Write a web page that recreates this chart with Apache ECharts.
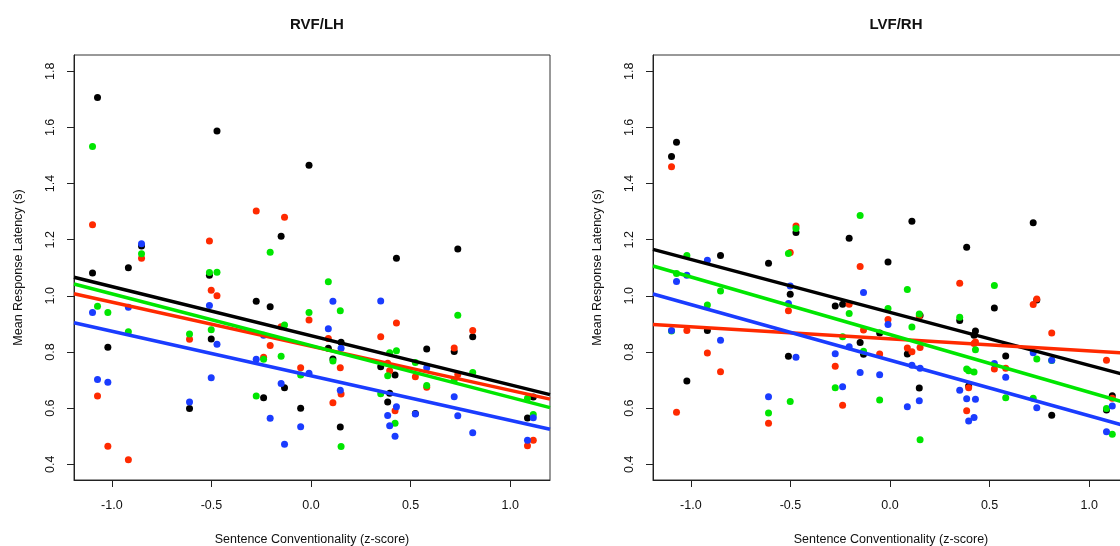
<!DOCTYPE html>
<html lang="en">
  <head>
    <meta charset="UTF-8" />
    <title>latency scatter</title>
    <script src="https://cdn.jsdelivr.net/npm/echarts@6/dist/echarts.min.js"></script>
    <style>
      body { margin: 0; background: #ffffff; }
      #chart { width: 1120px; height: 546px; }
    </style>
  </head>
  <body>
    <div id="chart"></div>
    <script>
      // sentence items (z-score), shared by both panels
      var itemX = [-1.097, -1.072, -1.020, -0.917, -0.851, -0.610, -0.510, -0.501, -0.472, -0.275, -0.238, -0.205, -0.150, -0.133, -0.052, -0.010,
        0.087, 0.110, 0.147, 0.151, 0.350, 0.385, 0.395, 0.422, 0.429, 0.524, 0.581, 0.719, 0.737, 0.812, 1.087, 1.116];

      // RVF/LH
      var leftBlack = [1.081, 1.707, 0.817, 1.100, 1.178, 0.599, 1.073, 0.846, 1.587, 0.981, 0.637, 0.961, 1.212, 0.673, 0.600, 1.465,
        0.813, 0.775, 0.533, 0.835, 0.747, 0.622, 0.653, 0.718, 1.134, 0.581, 0.811, 0.802, 1.167, 0.854, 0.565, 0.640];
      var leftRed = [1.253, 0.643, 0.464, 0.416, 1.134, 0.845, 1.195, 1.020, 1.000, 1.302, 0.781, 0.823, 0.890, 1.280, 0.744, 0.914,
        0.848, 0.619, 0.744, 0.650, 0.854, 0.760, 0.733, 0.591, 0.903, 0.712, 0.674, 0.814, 0.720, 0.877, 0.466, 0.486];
      var leftGreen = [1.532, 0.963, 0.941, 0.872, 1.150, 0.864, 1.083, 0.879, 1.084, 0.643, 0.774, 1.155, 0.785, 0.896, 0.718, 0.941,
        1.050, 0.768, 0.947, 0.463, 0.651, 0.715, 0.797, 0.546, 0.804, 0.763, 0.681, 0.700, 0.931, 0.727, 0.635, 0.577];
      var leftBlue = [0.941, 0.702, 0.692, 0.959, 1.186, 0.622, 0.966, 0.708, 0.828, 0.774, 0.860, 0.564, 0.688, 0.471, 0.534, 0.724,
        0.883, 0.981, 0.664, 0.813, 0.982, 0.574, 0.537, 0.500, 0.605, 0.579, 0.744, 0.641, 0.573, 0.512, 0.486, 0.566];

      // LVF/RH
      var rightBlack = [1.496, 1.547, 0.697, 0.877, 1.144, 1.116, 0.785, 1.006, 1.226, 0.964, 0.970, 1.205, 0.834, 0.792, 0.868, 1.121,
        0.793, 1.266, 0.672, 0.930, 0.912, 1.173, 0.679, 0.860, 0.875, 0.957, 0.786, 1.260, 0.985, 0.575, 0.593, 0.644];
      var rightRed = [1.460, 0.585, 0.877, 0.796, 0.730, 0.546, 0.947, 1.154, 1.249, 0.749, 0.610, 0.970, 1.105, 0.878, 0.793, 0.916,
        0.814, 0.801, 0.928, 0.816, 1.045, 0.591, 0.673, 0.830, 0.836, 0.739, 0.742, 0.969, 0.989, 0.868, 0.771, 0.635];
      var rightGreen = [0.875, 1.080, 1.144, 0.967, 1.017, 0.583, 1.151, 0.624, 1.240, 0.673, 0.854, 0.937, 1.286, 0.803, 0.629, 0.955,
        1.023, 0.889, 0.935, 0.487, 0.924, 0.739, 0.733, 0.729, 0.808, 1.037, 0.637, 0.635, 0.775, 0.770, 0.599, 0.507];
      var rightBlue = [0.877, 1.051, 1.073, 1.127, 0.842, 0.641, 0.973, 1.035, 0.781, 0.794, 0.676, 0.819, 0.727, 1.012, 0.719, 0.898,
        0.605, 0.753, 0.626, 0.742, 0.664, 0.633, 0.554, 0.567, 0.632, 0.759, 0.710, 0.797, 0.601, 0.771, 0.516, 0.608];

      // fitted lines [intercept, slope]: black, red, green, blue
      var leftFit = [[0.858, -0.175], [0.8205, -0.157], [0.8228, -0.1842], [0.7153, -0.1588]];
      var rightFit = [[0.941, -0.1886], [0.847, -0.0429], [0.862, -0.2052], [0.771, -0.198]];

      var panelTitles = ['RVF/LH', 'LVF/RH'];
      var xTicks = [-1.0, -0.5, 0.0, 0.5, 1.0];
      var yTicks = [0.4, 0.6, 0.8, 1.0, 1.2, 1.4, 1.6, 1.8];

      var groupColors = ['#000000', '#ff2a00', '#00e600', '#1a3cff'];
      var fontName = "'Liberation Sans', Arial, sans-serif";
      var xMin = -1.19, xMax = 1.2, yMin = 0.344, yMax = 1.858;

      var chart = echarts.init(document.getElementById('chart'));

      var panels = [
        { groups: [leftBlack, leftRed, leftGreen, leftBlue], fit: leftFit },
        { groups: [rightBlack, rightRed, rightGreen, rightBlue], fit: rightFit }
      ];
      var gridLeft = [74, 653];

      var grids = [], xAxes = [], yAxes = [], titles = [], series = [];

      panels.forEach(function (p, i) {
        // the second panel runs past the right edge of the picture, so no bounds clamping
        grids.push({
          left: gridLeft[i], top: 55, width: 476, height: 425, show: true, borderColor: '#333', borderWidth: 1,
          backgroundColor: 'transparent', outerBoundsMode: 'none', containLabel: false
        });
        titles.push({
          text: panelTitles[i], left: gridLeft[i] + 238, top: 12, textAlign: 'center',
          textStyle: { fontFamily: fontName, fontSize: 15, fontWeight: 'bold', color: '#111' }
        });
        xAxes.push({
          type: 'value', gridIndex: i, min: xMin, max: xMax,
          name: 'Sentence Conventionality (z-score)', nameLocation: 'middle', nameGap: 53,
          nameTextStyle: { fontFamily: fontName, fontSize: 12.5, color: '#111' },
          axisLine: { show: true, onZero: false, lineStyle: { color: '#222' } },
          axisTick: { show: true, length: 7, lineStyle: { color: '#222' }, customValues: xTicks },
          axisLabel: {
            fontFamily: fontName, fontSize: 12.5, color: '#111', margin: 19, customValues: xTicks,
            formatter: function (v) { return v.toFixed(1); }
          },
          splitLine: { show: false }
        });
        yAxes.push({
          type: 'value', gridIndex: i, min: yMin, max: yMax,
          name: 'Mean Response Latency (s)', nameLocation: 'middle', nameGap: 49, nameRotate: 90,
          nameTextStyle: { fontFamily: fontName, fontSize: 12.5, color: '#111' },
          axisLine: { show: true, onZero: false, lineStyle: { color: '#222' } },
          axisTick: { show: true, length: 7, lineStyle: { color: '#222' }, customValues: yTicks },
          axisLabel: {
            fontFamily: fontName, fontSize: 12.5, color: '#111', margin: 17, rotate: 90, customValues: yTicks,
            formatter: function (v) { return v.toFixed(1); }
          },
          splitLine: { show: false }
        });

        p.groups.forEach(function (vals, g) {
          var pts = [];
          for (var k = 0; k < itemX.length; k += 1) pts.push([itemX[k], vals[k]]);
          series.push({
            type: 'scatter', xAxisIndex: i, yAxisIndex: i, symbolSize: 7, z: 2,
            itemStyle: { color: groupColors[g], opacity: 1 },
            data: pts, silent: true
          });
        });

        p.fit.forEach(function (f, g) {
          series.push({
            type: 'line', xAxisIndex: i, yAxisIndex: i, showSymbol: false, z: 3, silent: true,
            lineStyle: { color: groupColors[g], width: 3.5 },
            data: [[xMin, f[0] + f[1] * xMin], [xMax, f[0] + f[1] * xMax]]
          });
        });
      });

      chart.setOption({
        backgroundColor: '#ffffff',
        animation: false,
        title: titles,
        grid: grids,
        xAxis: xAxes,
        yAxis: yAxes,
        series: series
      });
    </script>
  </body>
</html>
